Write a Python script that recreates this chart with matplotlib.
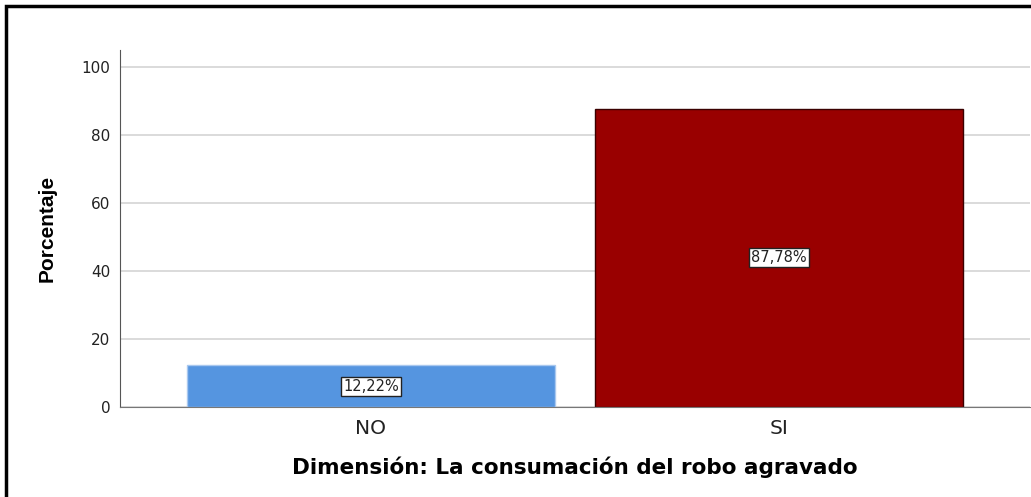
import matplotlib.pyplot as plt
from matplotlib.patches import Rectangle

categorias = ['NO', 'SI']
porcentajes = [12.22, 87.78]
etiquetas = ['12,22%', '87,78%']
colores = ['#5595e0', '#990000']
bordes = ['#a9c8ef', '#3a0000']

W, H = 1031, 497
fig = plt.figure(figsize=(W / 100, H / 100), dpi=100)
ax = fig.add_axes([120 / W, 1 - 407 / H, 910 / W, 357 / H])

x = list(range(len(categorias)))
ax.bar(x, porcentajes, width=0.9, color=colores, edgecolor=bordes, linewidth=1, zorder=3)
for xi, v, t in zip(x, porcentajes, etiquetas):
    ax.text(xi, v / 2, t, ha='center', va='center', fontsize=10.5, family='DejaVu Sans',
            color='#222222', zorder=4,
            bbox=dict(boxstyle='square,pad=0.15', fc='white', ec='#222222', lw=1))

ax.set_xlim(-0.615, 1.615)
ax.set_ylim(0, 105)
ax.set_yticks([0, 20, 40, 60, 80, 100])
ax.set_xticks(x)
ax.set_xticklabels(categorias, fontsize=14.5, family='DejaVu Sans', color='#222222')
ax.tick_params(axis='y', labelsize=11, length=0, pad=7, labelcolor='#222222')
ax.tick_params(axis='x', length=0, pad=9)
for lb in ax.get_yticklabels():
    lb.set_family('DejaVu Sans')
ax.yaxis.grid(True, color='#d4d4d4', linewidth=1.2, zorder=0)
ax.set_axisbelow(True)
for s in ['top', 'right']:
    ax.spines[s].set_visible(False)
ax.spines['left'].set_color('#555555')
ax.spines['bottom'].set_color('#777777')
ax.spines['bottom'].set_zorder(5)

ax.set_xlabel('Dimensión: La consumación del robo agravado', fontsize=15.5, fontweight='bold',
              family='DejaVu Sans', labelpad=13)
ax.set_ylabel('Porcentaje', fontsize=15, fontweight='bold',
              family='Liberation Sans', labelpad=18)

# marco exterior
fig.patches.append(Rectangle((6 / W, -0.1), 1.2, 1 - 6 / H + 0.1, transform=fig.transFigure,
                             fill=False, ec='black', lw=2.5))

fig.savefig('out.png', dpi=100)
